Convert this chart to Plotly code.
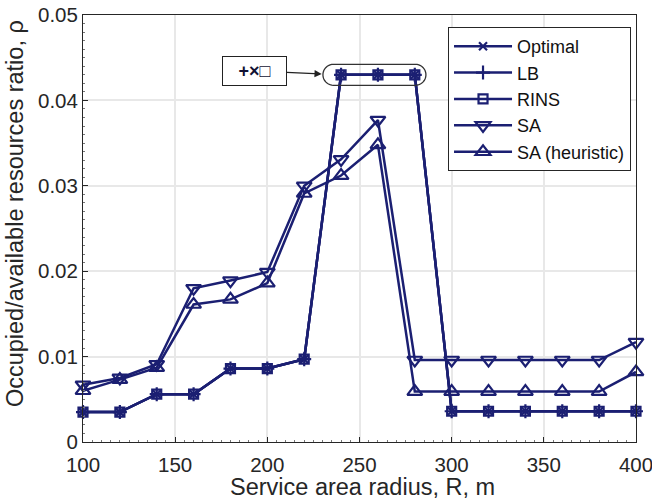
import numpy as np
import plotly.graph_objects as go

# ---- data ----
radius = [100, 120, 140, 160, 180, 200, 220, 240, 260, 280, 300, 320, 340, 360, 380, 400]
optimal = [0.0035, 0.0035, 0.0056, 0.0056, 0.0086, 0.0086, 0.0097, 0.0430, 0.0430, 0.0430,
           0.0036, 0.0036, 0.0036, 0.0036, 0.0036, 0.0036]
lb = list(optimal)
rins = list(optimal)
sa = [0.0067, 0.0075, 0.0091, 0.0180, 0.0189, 0.0199, 0.0300, 0.0331, 0.0377, 0.0096,
      0.0096, 0.0096, 0.0096, 0.0096, 0.0096, 0.0117]
sa_heur = [0.0060, 0.0073, 0.0087, 0.0161, 0.0167, 0.0186, 0.0291, 0.0312, 0.0348, 0.0059,
           0.0059, 0.0059, 0.0059, 0.0059, 0.0059, 0.0082]

series_names = ["Optimal", "LB", "RINS", "SA", "SA (heuristic)"]
y_ticks = [0, 0.01, 0.02, 0.03, 0.04, 0.05]
y_ticktext = ["0", "0.01", "0.02", "0.03", "0.04", "0.05"]
x_ticks = [100, 150, 200, 250, 300, 350, 400]
x_title = "Service area radius, R, m"
y_title = "Occupied/available resources ratio, ρ"

NAVY = "#1b1f72"
FONT = "Liberation Sans, Arial, sans-serif"
TXT = "#262626"

fig = go.Figure()

styles = [
    (optimal, "x-thin-open", 8),
    (lb, "cross-thin-open", 10),
    (rins, "square-open", 9),
    (sa, "triangle-down-open", 13),
    (sa_heur, "triangle-up-open", 13),
]
for name, (vals, sym, size) in zip(series_names, styles):
    fig.add_trace(go.Scatter(
        x=radius, y=vals, name=name, mode="lines+markers",
        line=dict(color=NAVY, width=2.5),
        marker=dict(symbol=sym, size=size, color=NAVY, line=dict(color=NAVY, width=2.2)),
        cliponaxis=False,
    ))

# rounded capsule around the coinciding points (pixel-sized path)
w_left, w_right, r = 55.0, 48.0, 10.5
pts = []
for t in np.linspace(-np.pi / 2, np.pi / 2, 20):
    pts.append((w_right - r + r * np.cos(t), r * np.sin(t)))
for t in np.linspace(np.pi / 2, 3 * np.pi / 2, 20):
    pts.append((-w_left + r + r * np.cos(t), r * np.sin(t)))
path = "M " + " L ".join(f"{px:.2f},{py:.2f}" for px, py in pts) + " Z"
fig.add_shape(type="path", path=path, xref="x", yref="y",
              xsizemode="pixel", ysizemode="pixel",
              xanchor=radius[8], yanchor=rins[8],
              line=dict(color="#333333", width=1.3), fillcolor="rgba(0,0,0,0)")

fig.add_annotation(
    x=229.5, y=0.0431, xref="x", yref="y",
    text="<b>+×□</b>", showarrow=True, ax=-67, ay=-3,
    arrowhead=2, arrowsize=1.2, arrowwidth=1.2, arrowcolor="#222222",
    bordercolor="#222222", borderwidth=1, borderpad=3, bgcolor="white",
    width=57, height=22, font=dict(family=FONT, size=18, color="#111133"),
)

# axis titles as annotations for precise placement
fig.add_annotation(x=0.505, y=-0.105, xref="paper", yref="paper", text=x_title,
                   showarrow=False, xanchor="center", yanchor="middle",
                   font=dict(family=FONT, size=23.5, color=TXT))
fig.add_annotation(x=-0.123, y=0.536, xref="paper", yref="paper", text=y_title,
                   showarrow=False, textangle=-90, xanchor="center", yanchor="middle",
                   font=dict(family=FONT, size=23.5, color=TXT))

axis_common = dict(
    showline=True, mirror=True, linecolor=TXT, linewidth=1,
    ticks="inside", ticklen=5, tickcolor=TXT,
    showgrid=True, gridcolor="#e8e8e8", gridwidth=1.5,
    zeroline=False, tickfont=dict(family=FONT, size=20.5, color=TXT),
    automargin=False, ticklabeloverflow="allow",
)
fig.update_xaxes(range=[100, 400], tickvals=x_ticks, ticklabelstandoff=4,
                 minor=dict(ticks="inside", ticklen=2, dtick=5, tickcolor="#777777",
                            showgrid=False),
                 **axis_common)
fig.update_yaxes(range=[0, 0.05], tickvals=y_ticks, ticktext=y_ticktext, ticklabelstandoff=0,
                 minor=dict(ticks="inside", ticklen=2, dtick=0.001, tickcolor="#777777",
                            showgrid=False),
                 **axis_common)

fig.update_layout(
    width=652, height=504,
    margin=dict(l=83, r=16, t=15, b=62),
    plot_bgcolor="white", paper_bgcolor="white",
    font=dict(family=FONT, color=TXT),
    legend=dict(x=0.991, y=0.972, xanchor="right", yanchor="top",
                bgcolor="white", bordercolor=TXT, borderwidth=1,
                font=dict(family=FONT, size=18, color="#111111"),
                itemwidth=58, tracegroupgap=0),
    showlegend=True,
)

# remove the page body's default margin so the figure fills the window exactly
fig.write_html("out.html", config={"displayModeBar": False},
               post_script="document.body.style.margin='0';")
